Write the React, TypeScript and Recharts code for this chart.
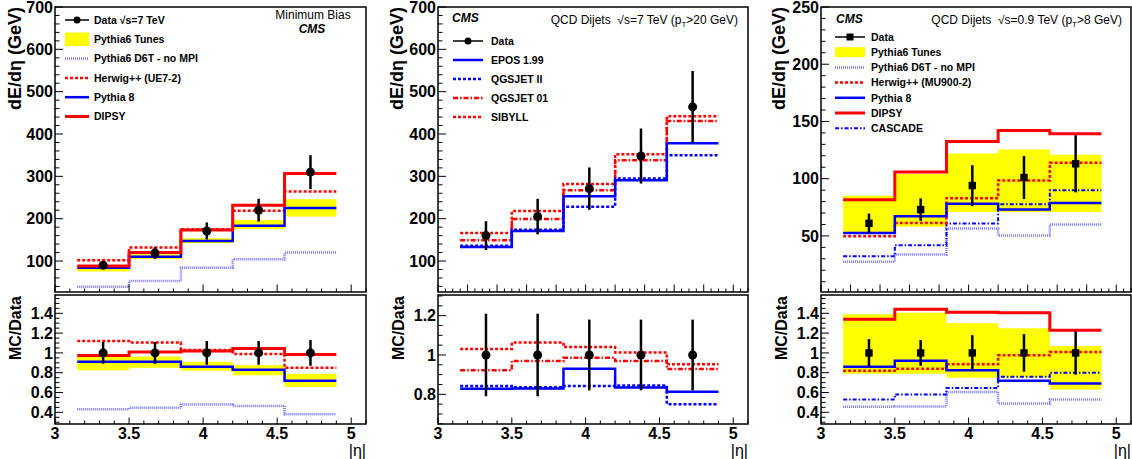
import React from 'react';
import { ComposedChart, Line, Area, Scatter, ErrorBar, XAxis, YAxis, ReferenceArea } from 'recharts';

const FONT = "'Liberation Sans', Arial, Helvetica, sans-serif";

// |eta| bins (histogram edges and centres)
const binEdges = [3.15, 3.5, 3.85, 4.2, 4.55, 4.9];
const binCenters = [3.325, 3.675, 4.025, 4.375, 4.725];

// --- Minimum bias, sqrt(s)=7 TeV ---
const mbData = [90, 119, 171, 220, 310];
const mbDataErr = [8, 14, 20, 27, 40];
const mbTunesLo = [75, 104, 142, 175, 205];
const mbTunesHi = [90, 116, 154, 197, 246];
const mbD6T = [39, 53, 84, 104, 120];
const mbHerwig = [102, 132, 175, 219, 264];
const mbPythia8 = [84, 110, 147, 183, 225];
const mbDipsy = [88, 120, 173, 232, 307];

const mbRatioErr = [0.11, 0.11, 0.12, 0.12, 0.13];
const mbRatioTunesLo = [0.825, 0.85, 0.82, 0.775, 0.655];
const mbRatioTunesHi = [0.96, 0.965, 0.91, 0.875, 0.79];
const mbRatioD6T = [0.43, 0.445, 0.48, 0.465, 0.38];
const mbRatioHerwig = [1.12, 1.105, 1.03, 0.99, 0.85];
const mbRatioPythia8 = [0.91, 0.91, 0.86, 0.83, 0.72];
const mbRatioDipsy = [0.975, 1.01, 1.02, 1.045, 0.985];

// --- QCD dijets, sqrt(s)=7 TeV ---
const dj7Data = [160, 205, 271, 348, 464];
const dj7DataErr = [34, 42, 50, 65, 85];
const dj7Epos = [133, 171, 253, 291, 378];
const dj7QgsII = [136, 174, 228, 295, 350];
const dj7Qgs01 = [149, 199, 267, 338, 431];
const dj7Sibyll = [166, 218, 282, 352, 442];

const dj7RatioErr = [0.21, 0.21, 0.18, 0.18, 0.18];
const dj7RatioEpos = [0.828, 0.83, 0.93, 0.834, 0.813];
const dj7RatioQgsII = [0.842, 0.836, 0.842, 0.845, 0.75];
const dj7RatioQgs01 = [0.922, 0.97, 0.986, 0.97, 0.929];
const dj7RatioSibyll = [1.03, 1.063, 1.04, 1.012, 0.953];

// --- QCD dijets, sqrt(s)=0.9 TeV ---
const dj09Data = [61, 73, 94, 101, 113];
const dj09DataErr = [8.5, 9.8, 17.8, 18.8, 25];
const dj09TunesLo = [53, 58, 71, 71, 71];
const dj09TunesHi = [85, 104, 122, 125.5, 121];
const dj09D6T = [27.4, 33.8, 56.4, 50.3, 60];
const dj09Herwig = [49.7, 61.3, 83, 98.5, 114];
const dj09Pythia8 = [52.6, 67.2, 78.2, 73, 78.8];
const dj09Dipsy = [81.7, 105.8, 132.5, 142, 139.2];
const dj09Cascade = [32.3, 41.9, 60.8, 77.6, 89.8];

const dj09RatioErr = [0.14, 0.13, 0.18, 0.19, 0.22];
const dj09RatioTunesLo = [0.79, 0.79, 0.75, 0.75, 0.63];
const dj09RatioTunesHi = [1.39, 1.405, 1.3, 1.25, 1.07];
const dj09RatioD6T = [0.455, 0.46, 0.605, 0.49, 0.53];
const dj09RatioHerwig = [0.82, 0.84, 0.885, 0.977, 1.01];
const dj09RatioPythia8 = [0.86, 0.92, 0.825, 0.72, 0.69];
const dj09RatioDipsy = [1.34, 1.44, 1.41, 1.405, 1.23];
const dj09RatioCascade = [0.53, 0.58, 0.645, 0.76, 0.8];

// tick labels
const xLabels = [3, 3.5, 4, 4.5, 5];
const xMajorFine = [3, 3.2, 3.4, 3.6, 3.8, 4, 4.2, 4.4, 4.6, 4.8, 5];
const gevLabels = [100, 200, 300, 400, 500, 600, 700];
const gev09Labels = [50, 100, 150, 200, 250];
const ratioLabels = [0.4, 0.6, 0.8, 1, 1.2, 1.4];
const ratio7Labels = [0.8, 1, 1.2];

const steps = (from: number, to: number, step: number) => {
  const out: number[] = [];
  for (let v = from; v <= to + 1e-9; v += step) out.push(Math.round(v * 1000) / 1000);
  return out;
};

const histRows = (series: Record<string, number[]>, lo?: number[], hi?: number[]) =>
  binEdges.map((x, i) => {
    const j = Math.min(i, binCenters.length - 1);
    const row: any = { x };
    Object.keys(series).forEach((k) => (row[k] = series[k][j]));
    if (lo && hi) row.band = [lo[j], hi[j]];
    return row;
  });

const pointRows = (vals: number[], errs: number[]) =>
  binCenters.map((x, i) => ({ x, y: vals[i], err: errs[i] }));

const ones = [1, 1, 1, 1, 1];

const RED = '#ff0000';
const BLUE = '#0000ff';
const D6T = '#5c5cff';

type Style = { key: string; color: string; width: number; dash?: string; opacity?: number };

const sD6T: Style = { key: 'd6t', color: D6T, width: 2.5, dash: '1 1', opacity: 0.85 };
const sHerwig: Style = { key: 'herwig', color: RED, width: 2.5, dash: '3 2' };
const sPythia8: Style = { key: 'pythia8', color: BLUE, width: 2.5 };
const sDipsy: Style = { key: 'dipsy', color: RED, width: 3 };
const sCascade: Style = { key: 'cascade', color: BLUE, width: 2, dash: '4 2 1.5 2' };
const sEpos: Style = { key: 'epos', color: BLUE, width: 2.5 };
const sQgsII: Style = { key: 'qgsII', color: BLUE, width: 2.5, dash: '3 2' };
const sQgs01: Style = { key: 'qgs01', color: RED, width: 2.5, dash: '5 2 1.5 2' };
const sSibyll: Style = { key: 'sibyll', color: RED, width: 2.5, dash: '3 2' };

const isIn = (list: number[], v: number) => list.some((m) => Math.abs(m - v) < 1e-6);
const fmt = (v: number) => String(Math.round(v * 100) / 100);

const makeXTick = (majors: number[], labels: boolean, majorLen: number, minorLen: number) =>
  function XTick(props: any) {
    const { x, y, payload } = props;
    const major = isIn(majors, payload.value);
    return (
      <g>
        <line x1={x} x2={x} y1={y} y2={y - (major ? majorLen : minorLen)} stroke="#000" strokeWidth={1} />
        {labels && isIn(xLabels, payload.value) && (
          <text x={x} y={y + 15} textAnchor="middle" fontFamily={FONT} fontWeight="bold" fontSize={16} fill="#000">
            {fmt(payload.value)}
          </text>
        )}
      </g>
    );
  };

const makeYTick = (majors: number[]) =>
  function YTick(props: any) {
    const { x, y, payload } = props;
    const major = isIn(majors, payload.value);
    return (
      <g>
        <line x1={x} x2={x + (major ? 8 : 4.5)} y1={y} y2={y} stroke="#000" strokeWidth={1} />
        {major && (
          <text x={x - 2} y={y} dy="0.36em" textAnchor="end" fontFamily={FONT} fontWeight="bold" fontSize={16} fill="#000">
            {fmt(payload.value)}
          </text>
        )}
      </g>
    );
  };

type PanelProps = {
  left: number;
  top: number;
  height: number;
  yAxisWidth: number;
  rightMargin: number;
  topMargin: number;
  xAxisHeight: number;
  yDomain: [number, number];
  yTicks: number[];
  yMajor: number[];
  xTicks: number[];
  xMajor: number[];
  xLabelsOn: boolean;
  rows: any[];
  points: any[];
  band: boolean;
  lines: Style[];
  square?: boolean;
};

function Panel(p: PanelProps) {
  const XTick = makeXTick(p.xMajor, p.xLabelsOn, p.xLabelsOn ? 6.5 : 7.5, 3.5);
  const YTick = makeYTick(p.yMajor);
  return (
    <div style={{ position: 'absolute', left: p.left, top: p.top }}>
      <ComposedChart
        width={380}
        height={p.height}
        data={p.rows}
        margin={{ top: p.topMargin, right: p.rightMargin, bottom: 0, left: 0 }}
      >
        <XAxis
          dataKey="x"
          type="number"
          domain={[3, 5.1]}
          allowDataOverflow
          ticks={p.xTicks}
          interval={0}
          tick={XTick}
          tickLine={false}
          axisLine={false}
          tickSize={0}
          tickMargin={0}
          height={p.xAxisHeight}
        />
        <YAxis
          type="number"
          domain={p.yDomain}
          allowDataOverflow
          ticks={p.yTicks}
          interval={0}
          tick={YTick}
          tickLine={false}
          axisLine={false}
          tickSize={0}
          tickMargin={0}
          width={p.yAxisWidth}
        />
        {p.band && (
          <Area
            dataKey="band"
            type="stepAfter"
            fill="#ffff00"
            fillOpacity={1}
            stroke="none"
            isAnimationActive={false}
            activeDot={false}
          />
        )}
        {p.lines.map((s) => (
          <Line
            key={s.key}
            dataKey={s.key}
            type="stepAfter"
            stroke={s.color}
            strokeWidth={s.width}
            strokeDasharray={s.dash}
            strokeOpacity={s.opacity ?? 1}
            dot={false}
            activeDot={false}
            isAnimationActive={false}
          />
        ))}
        <Scatter
          data={p.points}
          dataKey="y"
          fill="#000"
          isAnimationActive={false}
          shape={(sp: any) =>
            p.square ? (
              <rect x={sp.cx - 3.7} y={sp.cy - 3.7} width={7.4} height={7.4} fill="#000" />
            ) : (
              <circle cx={sp.cx} cy={sp.cy} r={4.5} fill="#000" />
            )
          }
        >
          <ErrorBar dataKey="err" direction="y" width={0} stroke="#000" strokeWidth={2.5} />
        </Scatter>
        <ReferenceArea
          x1={3}
          x2={5.1}
          y1={p.yDomain[0]}
          y2={p.yDomain[1]}
          fill="none"
          stroke="#000"
          strokeWidth={1.5}
          ifOverflow="visible"
        />
      </ComposedChart>
    </div>
  );
}

type LegendItem = { label: string; kind: 'data' | 'band' | 'line'; style?: Style };

const mbLegend: LegendItem[] = [
  { label: 'Data \u221As=7 TeV', kind: 'data' },
  { label: 'Pythia6 Tunes', kind: 'band' },
  { label: 'Pythia6 D6T - no MPI', kind: 'line', style: sD6T },
  { label: 'Herwig++ (UE7-2)', kind: 'line', style: sHerwig },
  { label: 'Pythia 8', kind: 'line', style: sPythia8 },
  { label: 'DIPSY', kind: 'line', style: sDipsy },
];
const dj7Legend: LegendItem[] = [
  { label: 'Data', kind: 'data' },
  { label: 'EPOS 1.99', kind: 'line', style: sEpos },
  { label: 'QGSJET II', kind: 'line', style: sQgsII },
  { label: 'QGSJET 01', kind: 'line', style: sQgs01 },
  { label: 'SIBYLL', kind: 'line', style: sSibyll },
];
const dj09Legend: LegendItem[] = [
  { label: 'Data', kind: 'data' },
  { label: 'Pythia6 Tunes', kind: 'band' },
  { label: 'Pythia6 D6T - no MPI', kind: 'line', style: sD6T },
  { label: 'Herwig++ (MU900-2)', kind: 'line', style: sHerwig },
  { label: 'Pythia 8', kind: 'line', style: sPythia8 },
  { label: 'DIPSY', kind: 'line', style: sDipsy },
  { label: 'CASCADE', kind: 'line', style: sCascade },
];

function LegendBlock(props: {
  items: LegendItem[];
  x0: number;
  x1: number;
  tx: number;
  y0: number;
  dy: number;
  bandH: number;
  square?: boolean;
}) {
  const { items, x0, x1, tx, y0, dy, bandH, square } = props;
  const mid = (x0 + x1) / 2;
  return (
    <g>
      {items.map((it, i) => {
        const cy = y0 + i * dy;
        return (
          <g key={it.label}>
            {it.kind === 'data' && (
              <g>
                <line x1={x0} x2={x1} y1={cy} y2={cy} stroke="#000" strokeWidth={1.5} />
                {square ? (
                  <rect x={mid - 3.5} y={cy - 3.5} width={7} height={7} fill="#000" />
                ) : (
                  <circle cx={mid} cy={cy} r={3.5} fill="#000" />
                )}
              </g>
            )}
            {it.kind === 'band' && <rect x={x0} y={cy - bandH / 2} width={x1 - x0} height={bandH} fill="#ffff00" />}
            {it.kind === 'line' && it.style && (
              <line
                x1={x0}
                x2={x1}
                y1={cy}
                y2={cy}
                stroke={it.style.color}
                strokeWidth={it.style.width}
                strokeDasharray={it.style.dash}
                strokeOpacity={it.style.opacity ?? 1}
              />
            )}
            <text x={tx} y={cy} dy="0.36em" fontFamily={FONT} fontWeight="bold" fontSize={10.5} fill="#000">
              {it.label}
            </text>
          </g>
        );
      })}
    </g>
  );
}

const yTitle = (x: number, y: number, text: string, size: number) => (
  <text
    transform={`translate(${x},${y}) rotate(-90)`}
    textAnchor="end"
    dy="0.36em"
    fontFamily={FONT}
    fontWeight="bold"
    fontSize={size}
    fill="#000"
  >
    {text}
  </text>
);

const etaTitle = (x: number) => (
  <text x={x} y={456} textAnchor="end" fontFamily={FONT} fontSize={16} fill="#000">
    |{'\u03B7'}|
  </text>
);

export default function App() {
  const topX = steps(3, 5.1, 0.1);
  const topXFine = steps(3, 5.1, 0.05);
  const botX = steps(3, 5.1, 0.1);
  const gevTicks = steps(40, 700, 20);
  const gev09Ticks = steps(10, 250, 10);
  const ratioTicks = steps(0.3, 1.55, 0.05);
  const ratio7Ticks = steps(0.65, 1.3, 0.05);

  const common = { height: 300, topMargin: 7, xAxisHeight: 8, xLabelsOn: false };
  const commonBot = { top: 290, height: 169, topMargin: 5, xAxisHeight: 35, xLabelsOn: true, xTicks: botX, xMajor: xLabels };

  return (
    <div style={{ position: 'absolute', left: 0, top: 0, width: 1132, height: 459, background: '#fff', overflow: 'hidden' }}>
      {/* Minimum bias */}
      <Panel
        {...common}
        left={0}
        top={0}
        yAxisWidth={55}
        rightMargin={14}
        yDomain={[26.8, 700]}
        yTicks={gevTicks}
        yMajor={gevLabels}
        xTicks={topX}
        xMajor={xLabels}
        rows={histRows({ d6t: mbD6T, herwig: mbHerwig, pythia8: mbPythia8, dipsy: mbDipsy }, mbTunesLo, mbTunesHi)}
        points={pointRows(mbData, mbDataErr)}
        band
        lines={[sD6T, sHerwig, sPythia8, sDipsy]}
      />
      <Panel
        {...commonBot}
        left={0}
        yAxisWidth={55}
        rightMargin={14}
        yDomain={[0.282, 1.585]}
        yTicks={ratioTicks}
        yMajor={ratioLabels}
        rows={histRows(
          { d6t: mbRatioD6T, herwig: mbRatioHerwig, pythia8: mbRatioPythia8, dipsy: mbRatioDipsy },
          mbRatioTunesLo,
          mbRatioTunesHi
        )}
        points={pointRows(ones, mbRatioErr)}
        band
        lines={[sD6T, sHerwig, sPythia8, sDipsy]}
      />

      {/* QCD dijets 7 TeV */}
      <Panel
        {...common}
        left={380}
        top={0}
        yAxisWidth={58}
        rightMargin={12}
        yDomain={[26.8, 700]}
        yTicks={gevTicks}
        yMajor={gevLabels}
        xTicks={topXFine}
        xMajor={xMajorFine}
        rows={histRows({ epos: dj7Epos, qgsII: dj7QgsII, qgs01: dj7Qgs01, sibyll: dj7Sibyll })}
        points={pointRows(dj7Data, dj7DataErr)}
        band={false}
        lines={[sSibyll, sQgs01, sQgsII, sEpos]}
      />
      <Panel
        {...commonBot}
        left={380}
        yAxisWidth={58}
        rightMargin={12}
        yDomain={[0.649, 1.305]}
        yTicks={ratio7Ticks}
        yMajor={ratio7Labels}
        rows={histRows({ epos: dj7RatioEpos, qgsII: dj7RatioQgsII, qgs01: dj7RatioQgs01, sibyll: dj7RatioSibyll })}
        points={pointRows(ones, dj7RatioErr)}
        band={false}
        lines={[sSibyll, sQgs01, sQgsII, sEpos]}
      />

      {/* QCD dijets 0.9 TeV */}
      <Panel
        {...common}
        left={752}
        top={0}
        yAxisWidth={69}
        rightMargin={1}
        yDomain={[1, 250]}
        yTicks={gev09Ticks}
        yMajor={gev09Labels}
        xTicks={topXFine}
        xMajor={xMajorFine}
        rows={histRows(
          { d6t: dj09D6T, cascade: dj09Cascade, herwig: dj09Herwig, pythia8: dj09Pythia8, dipsy: dj09Dipsy },
          dj09TunesLo,
          dj09TunesHi
        )}
        points={pointRows(dj09Data, dj09DataErr)}
        band
        lines={[sD6T, sCascade, sHerwig, sPythia8, sDipsy]}
        square
      />
      <Panel
        {...commonBot}
        left={752}
        yAxisWidth={69}
        rightMargin={1}
        yDomain={[0.282, 1.585]}
        yTicks={ratioTicks}
        yMajor={ratioLabels}
        rows={histRows(
          {
            d6t: dj09RatioD6T,
            cascade: dj09RatioCascade,
            herwig: dj09RatioHerwig,
            pythia8: dj09RatioPythia8,
            dipsy: dj09RatioDipsy,
          },
          dj09RatioTunesLo,
          dj09RatioTunesHi
        )}
        points={pointRows(ones, dj09RatioErr)}
        band
        lines={[sD6T, sCascade, sHerwig, sPythia8, sDipsy]}
        square
      />

      {/* titles, annotations and legends */}
      <svg
        width={1132}
        height={459}
        style={{ position: 'absolute', left: 0, top: 0, pointerEvents: 'none' }}
      >
        {yTitle(15, 7, 'dE/d\u03B7 (GeV)', 18)}
        {yTitle(397, 7, 'dE/d\u03B7 (GeV)', 18)}
        {yTitle(779, 7, 'dE/d\u03B7 (GeV)', 18)}
        {yTitle(15, 296, 'MC/Data', 16)}
        {yTitle(398, 296, 'MC/Data', 16)}
        {yTitle(781, 296, 'MC/Data', 16)}
        {etaTitle(366)}
        {etaTitle(748)}
        {etaTitle(1131)}

        <text x={313} y={15} dy="0.36em" textAnchor="middle" fontFamily={FONT} fontSize={12} fill="#000">
          Minimum Bias
        </text>
        <text x={312} y={29} dy="0.36em" textAnchor="middle" fontFamily={FONT} fontSize={12} fontWeight="bold" fontStyle="italic" fill="#000">
          CMS
        </text>

        <text x={452} y={18} dy="0.36em" fontFamily={FONT} fontSize={12} fontWeight="bold" fontStyle="italic" fill="#000">
          CMS
        </text>
        <text x={738} y={20} dy="0.36em" textAnchor="end" fontFamily={FONT} fontSize={12} fill="#000">
          QCD Dijets {'\u00A0'}{'\u221A'}s=7 TeV (p<tspan dy={3} fontSize={8}>T</tspan>
          <tspan dy={-3}>&gt;20 GeV)</tspan>
        </text>

        <text x={836} y={19} dy="0.36em" fontFamily={FONT} fontSize={12} fontWeight="bold" fontStyle="italic" fill="#000">
          CMS
        </text>
        <text x={1122} y={20} dy="0.36em" textAnchor="end" fontFamily={FONT} fontSize={12} fill="#000">
          QCD Dijets {'\u00A0'}{'\u221A'}s=0.9 TeV (p<tspan dy={3} fontSize={8}>T</tspan>
          <tspan dy={-3}>&gt;8 GeV)</tspan>
        </text>

        <LegendBlock items={mbLegend} x0={65} x1={89} tx={94} y0={20} dy={19.3} bandH={13.5} />
        <LegendBlock items={dj7Legend} x0={453} x1={483} tx={491} y0={41} dy={19} bandH={12} />
        <LegendBlock items={dj09Legend} x0={835} x1={865} tx={871} y0={37} dy={15.2} bandH={10} square />
      </svg>
    </div>
  );
}
